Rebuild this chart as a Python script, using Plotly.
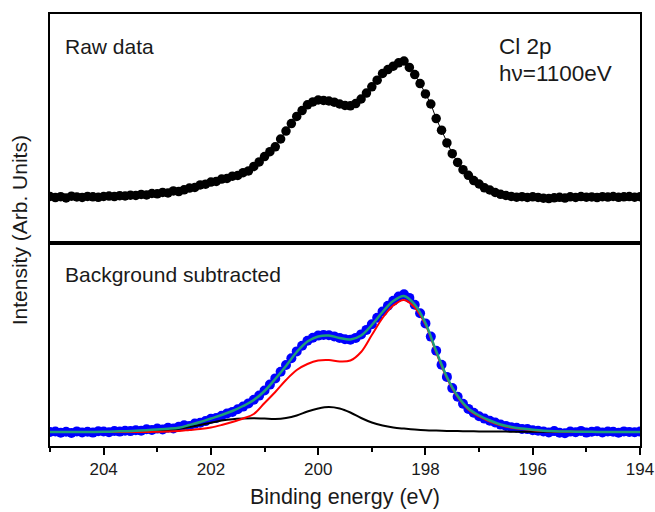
import plotly.graph_objects as go
from plotly.subplots import make_subplots

# ---------------- data ----------------
# measurement grid: 205.0 -> 194.0 eV, 0.1 eV step (111 points)
E_START, E_STEP_DOTS, N_DOTS = 205.0, -0.1, 111
# fit curves grid: 205.0 -> 194.0 eV, 0.2 eV step (56 points)
E_STEP_FIT, N_FIT = -0.2, 56

raw_intensity = [
    0.5, -0.6, 0.3, -0.9, 0.8, 0.1, -0.4, 0.6, 0.2, -0.3,
    0.5, 0.9, 0.4, 1.3, 1.0, 1.8, 1.5, 2.6, 2.0, 3.5,
    3.2, 4.6, 4.0, 6.1, 5.4, 7.2, 8.9, 9.5, 12.1, 12.8,
    14.9, 15.6, 17.9, 18.6, 20.8, 21.5, 24.3, 26.1, 30.6, 35.1,
    40.4, 45.3, 50.2, 58.0, 65.9, 73.4, 80.6, 86.4, 92.2, 95.1,
    97.0, 96.6, 96.0, 94.8, 93.0, 91.6, 91.2, 93.4, 98.0, 103.9,
    110.2, 116.8, 123.5, 127.4, 130.8, 134.2, 136.0, 129.6, 122.4, 113.4,
    103.1, 93.0, 78.4, 66.8, 54.1, 43.3, 34.6, 27.3, 21.7, 16.4,
    13.0, 9.2, 7.0, 4.5, 2.7, 1.5, 0.6, -0.2, 0.3, -0.5,
    0.2, -0.4, -1.2, -1.6, -0.8, -0.3, -1.1, 0.2, -0.5, 0.4,
    -0.2, 0.1, -0.6, 0.3, -0.1, 0.5, -0.3, 0.2, 0.4, -0.2, 0.3,
]

bgsub_intensity = [
    0.0, 0.5, -0.8, 0.3, -1.0, 0.6, -0.4, 0.2, -0.6, 0.8,
    0.5, -0.2, 1.0, 0.4, 1.3, 0.9, 1.8, 1.2, 2.8, 2.1,
    3.4, 2.6, 4.3, 3.6, 5.2, 6.8, 6.1, 8.4, 9.2, 10.9,
    13.2, 14.1, 16.3, 18.5, 20.1, 22.8, 25.4, 28.6, 32.3, 36.4,
    41.5, 47.4, 53.6, 60.2, 67.0, 73.8, 80.6, 86.3, 91.2, 94.3,
    96.4, 97.1, 96.8, 95.6, 94.1, 92.8, 92.3, 94.1, 97.6, 102.1,
    107.8, 114.2, 120.5, 126.3, 131.2, 135.4, 137.8, 134.1, 127.2, 118.8,
    108.6, 95.4, 81.2, 67.3, 55.1, 43.9, 35.2, 28.3, 23.1, 19.2,
    15.8, 13.4, 11.2, 9.5, 7.4, 6.1, 4.8, 4.2, 3.1, 2.9,
    1.8, 1.2, 0.6, -0.5, 0.9, -0.8, -1.3, 0.4, -0.2, 1.1,
    -0.6, 0.3, 0.8, -0.4, 0.5, 0.2, -0.7, 0.6, 0.1, -0.3, 0.4,
]

fit_envelope = [
    0.0, 0.0, 0.0, 0.1, 0.1, 0.2, 0.5, 0.8, 1.2, 1.8,
    2.5, 3.2, 4.2, 7.0, 10.0, 13.5, 17.0, 21.0, 26.0, 32.0,
    41.0, 53.0, 66.0, 80.0, 90.5, 95.5, 96.5, 94.0, 92.5, 96.5,
    107.0, 120.0, 131.0, 136.0, 127.5, 109.0, 81.0, 55.0, 36.0, 23.5,
    16.5, 11.5, 7.5, 5.0, 3.4, 2.2, 1.3, 0.8, 0.5, 0.3,
    0.2, 0.1, 0.1, 0.0, 0.0, 0.0,
]

component_main = [
    0.0, 0.0, 0.0, 0.0, 0.0, 0.0, 0.0, 0.0, 0.0, 0.1,
    0.2, 0.5, 1.0, 2.0, 3.0, 4.5, 7.0, 10.0, 13.5, 18.0,
    29.0, 40.0, 52.0, 62.0, 68.0, 71.5, 72.0, 70.5, 71.5, 80.0,
    97.0, 114.0, 126.5, 132.0, 124.5, 107.5, 79.5, 54.0, 35.0, 22.5,
    15.5, 10.5, 6.8, 4.3, 2.9, 1.8, 1.0, 0.6, 0.3, 0.2,
    0.1, 0.0, 0.0, 0.0, 0.0, 0.0,
]

component_minor = [
    0.0, 0.0, 0.0, 0.0, 0.0, 0.0, 0.1, 0.2, 0.3, 0.5,
    1.0, 2.0, 3.3, 5.0, 7.0, 9.3, 11.4, 12.8, 13.5, 13.8,
    13.4, 13.0, 14.0, 16.5, 20.5, 23.5, 25.0, 23.5, 19.5, 14.0,
    9.5, 6.5, 4.5, 3.4, 2.5, 1.8, 1.4, 1.1, 0.9, 0.7,
    0.6, 0.5, 0.4, 0.35, 0.3, 0.25, 0.2, 0.15, 0.1, 0.1,
    0.05, 0.0, 0.0, 0.0, 0.0, 0.0,
]

major_ticks = [204, 202, 200, 198, 196, 194]
major_labels = ["204", "202", "200", "198", "196", "194"]
minor_ticks = [205, 203, 201, 199, 197, 195]

energy_dots = [round(E_START + i * E_STEP_DOTS, 2) for i in range(N_DOTS)]
energy_fit = [round(E_START + i * E_STEP_FIT, 2) for i in range(N_FIT)]

# ---------------- figure ----------------
FONT = "Liberation Sans, Arial, sans-serif"
TXT = "#1a1a1a"

fig = make_subplots(rows=2, cols=1, shared_xaxes=True, vertical_spacing=0,
                    row_heights=[229, 203])

fig.add_trace(go.Scatter(x=energy_dots, y=raw_intensity, mode="lines+markers",
                         line=dict(color="black", width=1),
                         marker=dict(color="black", size=9.5),
                         showlegend=False), row=1, col=1)

fig.add_trace(go.Scatter(x=energy_dots, y=bgsub_intensity, mode="markers",
                         marker=dict(color="#0000FF", size=10),
                         showlegend=False), row=2, col=1)
fig.add_trace(go.Scatter(x=energy_fit, y=component_minor, mode="lines",
                         line=dict(color="black", width=2, shape="spline"),
                         showlegend=False), row=2, col=1)
fig.add_trace(go.Scatter(x=energy_fit, y=component_main, mode="lines",
                         line=dict(color="#FF0000", width=2, shape="spline"),
                         showlegend=False), row=2, col=1)
fig.add_trace(go.Scatter(x=energy_fit, y=fit_envelope, mode="lines",
                         line=dict(color="#1E9E78", width=2.5, shape="spline"),
                         showlegend=False), row=2, col=1)

axis_common = dict(showline=True, mirror=True, linecolor="black", linewidth=1.5,
                   showgrid=False, zeroline=False, automargin=False)

fig.update_xaxes(range=[205, 194], **axis_common)
fig.update_xaxes(showticklabels=False, ticks="", row=1, col=1)
fig.update_xaxes(tickvals=major_ticks, ticktext=major_labels, ticks="outside",
                 ticklen=7, tickwidth=1.5, tickcolor="black",
                 ticklabeloverflow="allow",
                 tickfont=dict(family=FONT, size=17, color=TXT),
                 minor=dict(tickvals=minor_ticks, ticks="outside", ticklen=4,
                            tickwidth=1.5, tickcolor="black", showgrid=False),
                 row=2, col=1)

fig.update_yaxes(showticklabels=False, ticks="", **axis_common)
fig.update_yaxes(range=[-46, 183], row=1, col=1)
fig.update_yaxes(range=[-14, 189], row=2, col=1)

ann_font = dict(family=FONT, color=TXT)
fig.add_annotation(text="Raw data", xref="paper", yref="paper", x=0.022, y=0.924,
                   xanchor="left", yanchor="middle", showarrow=False,
                   font=dict(size=21, **ann_font))
fig.add_annotation(text="Cl 2p", xref="paper", yref="paper", x=0.757, y=0.924,
                   xanchor="left", yanchor="middle", showarrow=False,
                   font=dict(size=22.5, **ann_font))
fig.add_annotation(text="hν=1100eV", xref="paper", yref="paper", x=0.757, y=0.863,
                   xanchor="left", yanchor="middle", showarrow=False,
                   font=dict(size=22.5, **ann_font))
fig.add_annotation(text="Background subtracted", xref="paper", yref="paper",
                   x=0.022, y=0.396, xanchor="left", yanchor="middle",
                   showarrow=False, font=dict(size=21, **ann_font))
fig.add_annotation(text="Intensity (Arb. Units)", xref="paper", yref="paper",
                   x=-0.052, y=0.5, xanchor="center", yanchor="middle",
                   textangle=-90, showarrow=False,
                   font=dict(size=21, **ann_font))
fig.add_annotation(text="Binding energy (eV)", xref="paper", yref="paper",
                   x=0.5, y=-0.118, xanchor="center", yanchor="middle",
                   showarrow=False, font=dict(size=21.5, **ann_font))

fig.update_layout(width=655, height=512,
                  margin=dict(l=50, r=15, t=14, b=66),
                  paper_bgcolor="white", plot_bgcolor="white",
                  font=dict(family=FONT, color=TXT))

# remove the default page margin / scrollbars so the 655x512 figure fills the window
page_fix = ("document.documentElement.style.margin='0';"
            "document.documentElement.style.overflow='hidden';"
            "document.body.style.margin='0';"
            "document.body.style.overflow='hidden';")

fig.write_html("out.html", post_script=page_fix,
               config={"displayModeBar": False})
